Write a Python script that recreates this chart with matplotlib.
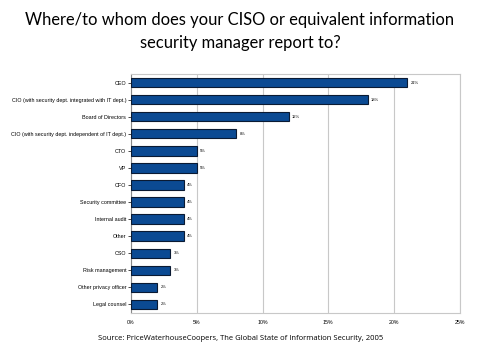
import numpy as np
import matplotlib.pyplot as plt

# survey answers, top to bottom
labels = ['CEO', 'CIO (with security dept. integrated with IT dept.)', 'Board of Directors',
          'CIO (with security dept. independent of IT dept.)', 'CTO', 'VP', 'CFO',
          'Security committee', 'Internal audit', 'Other', 'CSO', 'Risk management',
          'Other privacy officer', 'Legal counsel']
values = [21, 18, 12, 8, 5, 5, 4, 4, 4, 4, 3, 3, 2, 2]
xticks = [0, 5, 10, 15, 20, 25]

fig = plt.figure(figsize=(4.8, 3.56), dpi=100)
ax = fig.add_axes([0.273, 0.121, 0.685, 0.671])

y = np.arange(len(labels))
ax.barh(y, values, height=0.55, color='#0b4a93', edgecolor='#0a1a33', linewidth=0.8, zorder=3)
for yi, v in zip(y, values):
    ax.text(v + 0.25, yi, '%d%%' % v, fontsize=3, va='center', ha='left', family='Liberation Sans')

ax.set_ylim(len(labels) - 0.5, -0.5)
ax.set_xlim(0, 25)
ax.set_yticks(y)
ax.set_yticklabels(labels, fontsize=3.9, family='Liberation Sans')
ax.set_xticks(xticks)
ax.set_xticklabels(['%d%%' % t for t in xticks], fontsize=3.8, family='Liberation Sans')
ax.xaxis.grid(True, color='#c8c8c8', linewidth=0.8, zorder=0)
ax.tick_params(axis='y', length=2, width=0.5, pad=1.5)
ax.tick_params(axis='x', length=0, pad=5)
for s in ['top', 'right', 'bottom']:
    ax.spines[s].set_color('#c8c8c8')
ax.spines['left'].set_color('#888888')

fig.text(0.5, 0.912, 'Where/to whom does your CISO or equivalent information\nsecurity manager report to?',
         ha='center', va='center', fontsize=11.9, family='Lato', linespacing=1.5)
fig.text(0.502, 0.05, 'Source: PriceWaterhouseCoopers, The Global State of Information Security, 2005',
         ha='center', va='center', fontsize=5.5, family='Open Sans')

fig.savefig('out.png', dpi=100)
